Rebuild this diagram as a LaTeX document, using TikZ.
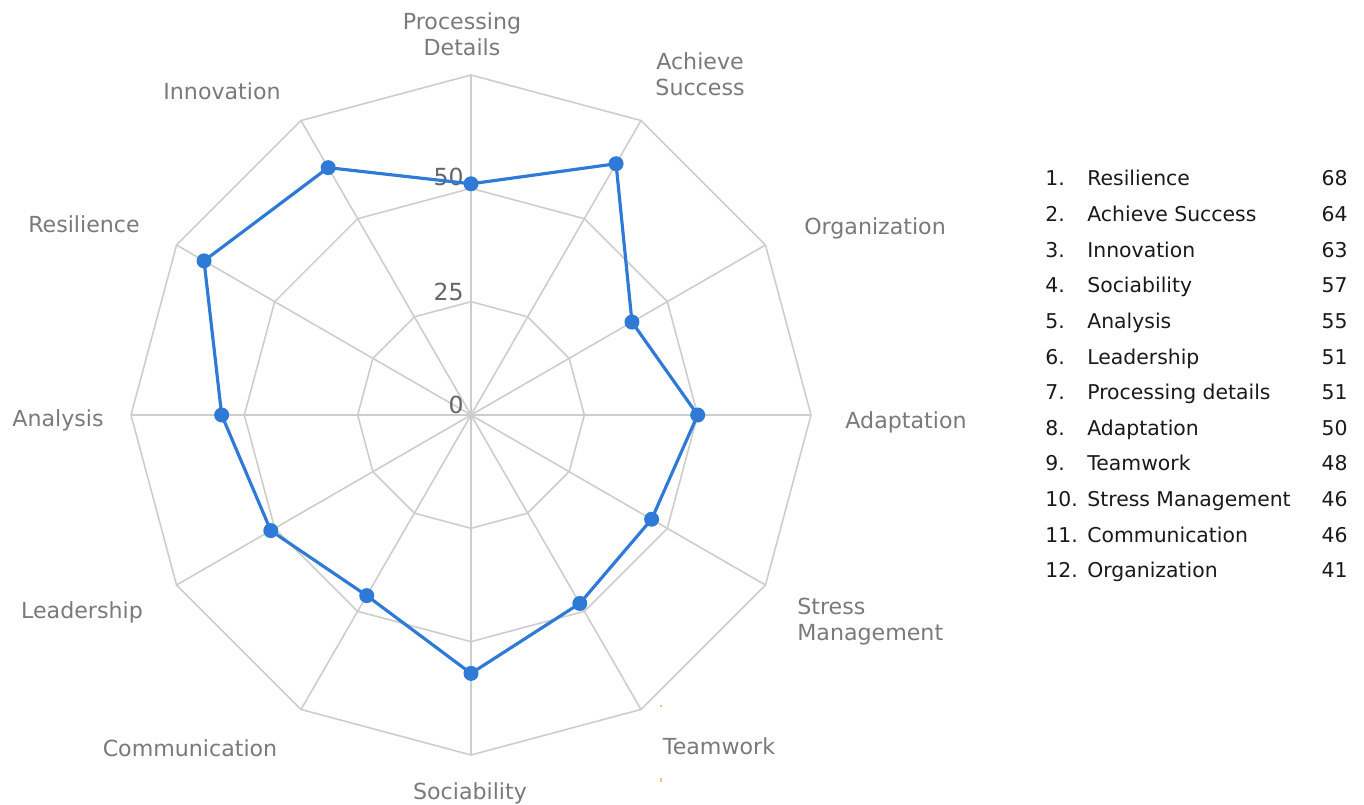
\documentclass[tikz,border=0pt]{standalone}
\usepackage{fontspec}
\setmainfont{DejaVu Sans}
\definecolor{gridc}{HTML}{CDCDCD}
\definecolor{labc}{HTML}{7A7A7A}
\definecolor{tickc}{HTML}{666666}
\definecolor{datac}{HTML}{2E7AD6}
\definecolor{legc}{HTML}{1A1A1A}
\definecolor{orangec}{HTML}{F5C08A}
\begin{document}
\begin{tikzpicture}[x=0.02cm,y=-0.02cm,
  gridline/.style={draw=gridc,line width=0.9pt,line join=round},
  dataline/.style={draw=datac,line width=1.8pt,line join=round},
  datadot/.style={circle,fill=datac,inner sep=0pt,minimum size=0.3cm},
  axlabel/.style={text=labc,font=\fontsize{12.6}{14.8}\selectfont,inner sep=0pt},
  ticklabel/.style={text=tickc,font=\fontsize{13.4}{15}\selectfont,inner sep=0pt,anchor=east},
  legtext/.style={text=legc,font=\fontsize{11.6}{13}\selectfont,inner sep=0pt,anchor=base west},
  legval/.style={text=legc,font=\fontsize{11.6}{13}\selectfont,inner sep=0pt,anchor=base east}]
\useasboundingbox (0,0) rectangle (1364,804);
\fill[white] (0,0) rectangle (1364,804);

% chart
\begin{scope}[shift={(471,415)},y=0.02cm]
  \coordinate (c) at (0,0);
  \foreach \r in {113.33,226.67,340}
    \draw[gridline] (0:\r) -- (30:\r) -- (60:\r) -- (90:\r) -- (120:\r) -- (150:\r)
      -- (180:\r) -- (210:\r) -- (240:\r) -- (270:\r) -- (300:\r) -- (330:\r) -- cycle;
  \foreach \a in {0,30,...,330}
    \draw[gridline] (c) -- (\a:340);
  \foreach \n/\a/\v in {pd/90/51, as/60/64, org/30/41, ad/0/50, sm/-30/46, tw/-60/48,
                        soc/-90/57, com/-120/46, lead/-150/51, an/180/55, res/150/68, inn/120/63}
    \coordinate (\n) at (\a:{\v*4.5333});
\end{scope}

% tick labels
\node[ticklabel] (t0) at (464,405) {0};
\node[ticklabel] (t25) at (464,292) {25};
\node[ticklabel] (t50) at (464,177) {50};

% data
\draw[dataline] (pd) -- (as) -- (org) -- (ad) -- (sm) -- (tw) -- (soc) -- (com) -- (lead) -- (an) -- (res) -- (inn) -- cycle;
\foreach \n in {pd,as,org,ad,sm,tw,soc,com,lead,an,res,inn}
  \node[datadot] (d\n) at (\n) {};

% axis labels
\node[axlabel,align=center] (lpd) at (462,34) {Processing\\Details};
\node[axlabel,align=center] (las) at (700,74) {Achieve\\Success};
\node[axlabel,anchor=base] (lorg) at (875,234) {Organization};
\node[axlabel,anchor=base] (lad) at (906,428) {Adaptation};
\node[axlabel,align=left,anchor=west] (lsm) at (797,622) {Stress\\Management};
\node[axlabel,anchor=base] (ltw) at (719,754) {Teamwork};
\node[axlabel,anchor=base] (lsoc) at (470,799) {Sociability};
\node[axlabel,anchor=base] (lcom) at (190,756) {Communication};
\node[axlabel,anchor=base] (llead) at (82,618) {Leadership};
\node[axlabel,anchor=base] (lan) at (58,426) {Analysis};
\node[axlabel,anchor=base] (lres) at (84,232) {Resilience};
\node[axlabel,anchor=base] (linn) at (222,100) {Innovation};

% tiny artifacts
\draw[orangec,line width=0.6pt] (661,704.5) -- (661,706.5);
\draw[orangec,line width=0.6pt] (661,777.5) -- (661,781.5);

% legend
\foreach \i/\name/\val [count=\k from 0] in {1/Resilience/68, 2/Achieve Success/64, 3/Innovation/63,
    4/Sociability/57, 5/Analysis/55, 6/Leadership/51, 7/Processing details/51, 8/Adaptation/50,
    9/Teamwork/48, 10/Stress Management/46, 11/Communication/46, 12/Organization/41} {
  \node[legtext] (ln\i) at (1045,{186+35.6*\k}) {\i.};
  \node[legtext] (lt\i) at (1087,{186+35.6*\k}) {\name};
  \node[legval] (lv\i) at (1348,{186+35.6*\k}) {\val};
}
\end{tikzpicture}
\end{document}
